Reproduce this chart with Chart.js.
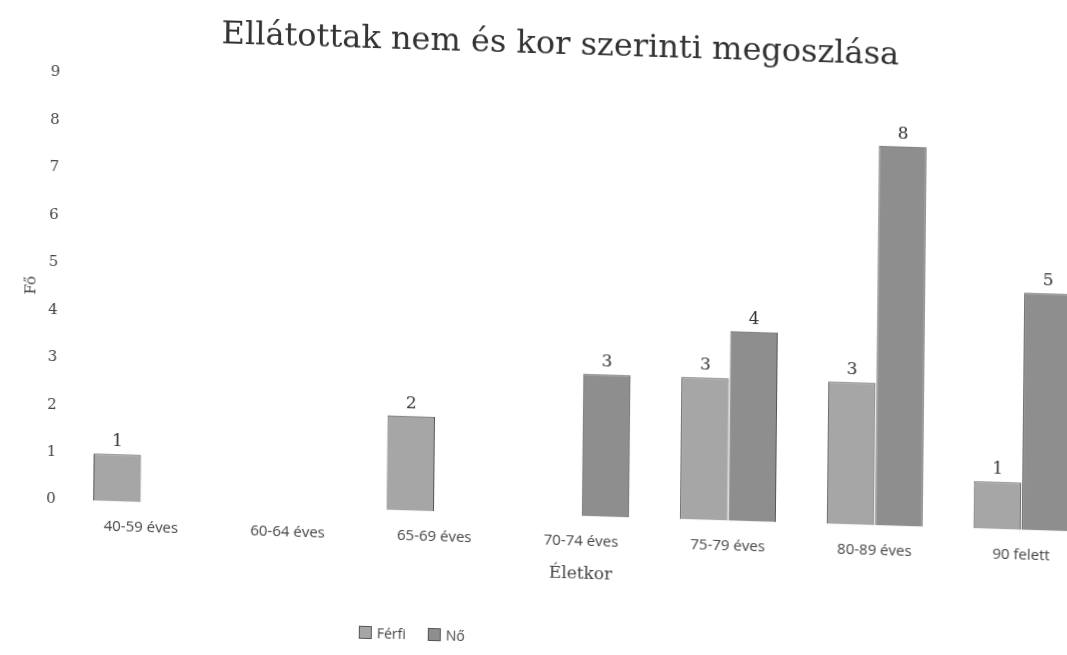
<!DOCTYPE html>
<html>
<head>
<meta charset="utf-8">
<script src="https://cdn.jsdelivr.net/npm/chart.js@4/dist/chart.umd.min.js"></script>
<style>
html,body{margin:0;padding:0;background:#fff;overflow:hidden}
#wrap{position:relative;width:1097px;height:655px;transform:rotate(0.6deg) skewY(1.2deg);transform-origin:530px 330px}
#legend{position:absolute;left:362px;top:628px;font:14px "Open Sans";color:#444;display:flex;gap:22px}
#legend span{display:inline-flex;align-items:center;gap:5px}
#legend i{display:inline-block;width:13px;height:13px;border:1px solid #555;box-sizing:border-box}
</style>
</head>
<body>
<div id="wrap"><canvas id="chart" width="1097" height="655"></canvas><div id="legend"></div></div>
<script>
const categories=["40-59 éves","60-64 éves","65-69 éves","70-74 éves","75-79 éves","80-89 éves","90 felett"]
const ferfi=[1,null,2,null,3,3,1]
const no=[null,null,null,3,4,8,5]
const yTicks=[0,1,2,3,4,5,6,7,8,9]

const valueLabels={
id:'valueLabels',
afterDatasetsDraw(chart){
const ctx=chart.ctx
ctx.save()
ctx.font='17px "DejaVu Serif"'
ctx.fillStyle='#333'
ctx.textAlign='center'
ctx.textBaseline='bottom'
chart.data.datasets.forEach((ds,i)=>{
chart.getDatasetMeta(i).data.forEach((bar,j)=>{
if(ds.data[j]==null) return
ctx.fillText(ds.data[j],bar.x,bar.y-4)
})
})
ctx.restore()
}
}

let chart=new Chart(document.getElementById("chart"),{
type:'bar',
data:{
labels:categories,
datasets:[
{label:'Férfi',data:ferfi,backgroundColor:'#a6a6a6',borderColor:'#555',borderWidth:1},
{label:'Nő',data:no,backgroundColor:'#8e8e8e',borderColor:'#555',borderWidth:1}
]
},
options:{
responsive:false,
animation:false,
devicePixelRatio:1,
datasets:{bar:{categoryPercentage:0.66,barPercentage:0.98}},
layout:{padding:{left:18,right:0,top:8,bottom:69}},
scales:{
x:{
grid:{display:false},
border:{display:false},
ticks:{color:'#444',font:{family:'Open Sans',size:15},padding:8},
title:{display:true,text:'Életkor',color:'#444',font:{family:'DejaVu Serif',size:17},padding:{top:6,bottom:3}}
},
y:{
min:0,max:9,
afterBuildTicks(axis){axis.ticks=yTicks.map(v=>({value:v}))},
grid:{display:false},
border:{display:false},
ticks:{color:'#444',font:{family:'DejaVu Serif',size:15},padding:4},
title:{display:true,text:'Fő',color:'#444',font:{family:'DejaVu Serif',size:15}}
}
},
plugins:{
title:{display:true,text:'Ellátottak nem és kor szerinti megoszlása',color:'#333',font:{family:'DejaVu Serif',size:32,weight:'normal'},padding:{top:17,bottom:24}},
legend:{display:false},
tooltip:{enabled:false}
}
},
plugins:[valueLabels]
})

let legendBox=document.getElementById("legend")
chart.data.datasets.forEach(ds=>{
legendBox.innerHTML+=`<span><i style="background:${ds.backgroundColor}"></i>${ds.label}</span>`
})
</script>
</body>
</html>
